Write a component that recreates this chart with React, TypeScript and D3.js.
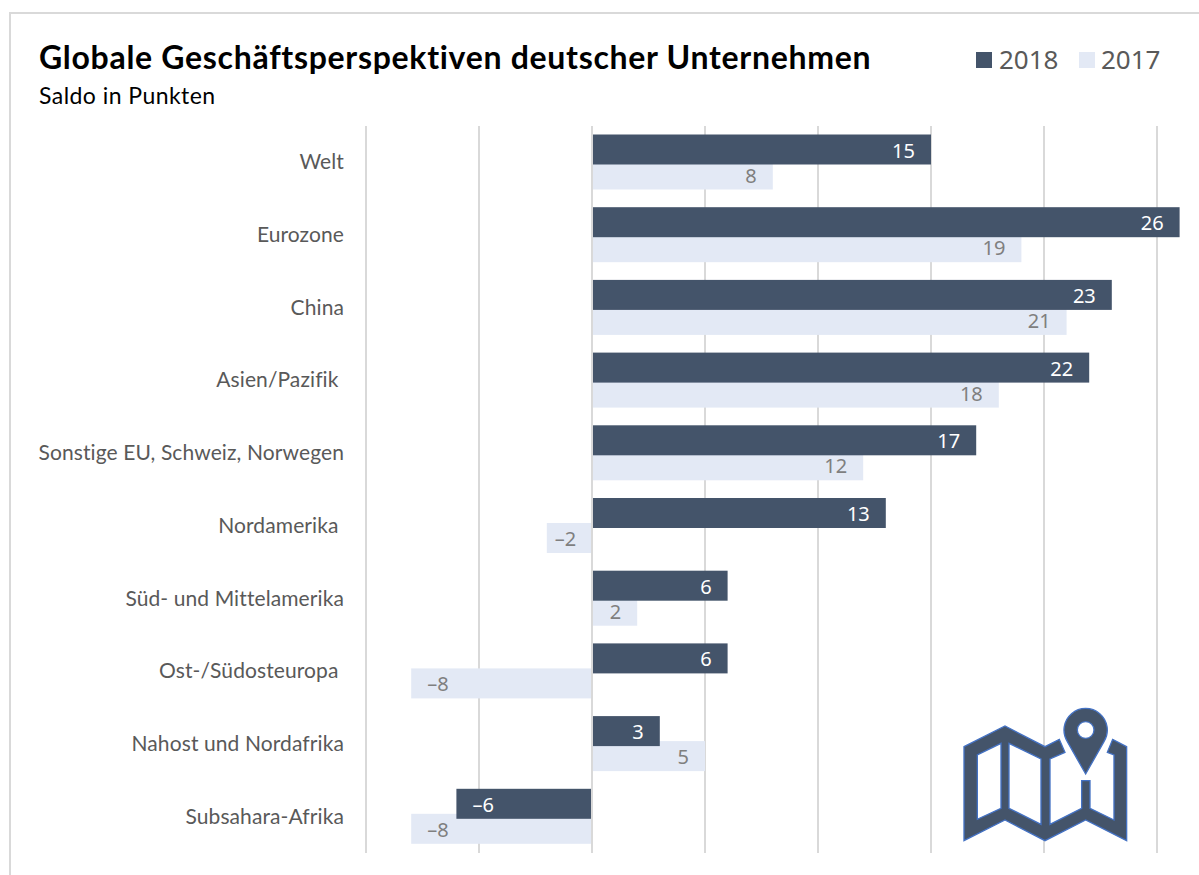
import React from 'react';
import * as d3 from 'd3';

const WIDTH = 1199;
const HEIGHT = 875;

const categories = [
  'Welt',
  'Eurozone',
  'China',
  'Asien/Pazifik ',
  'Sonstige EU, Schweiz, Norwegen',
  'Nordamerika ',
  'Süd- und Mittelamerika',
  'Ost-/Südosteuropa ',
  'Nahost und Nordafrika',
  'Subsahara-Afrika',
];
const values2018 = [15, 26, 23, 22, 17, 13, 6, 6, 3, -6];
const values2017 = [8, 19, 21, 18, 12, -2, 2, -8, 5, -8];
const gridTicks = [-10, -5, 0, 5, 10, 15, 20, 25];

const DARK = '#44546a';
const LIGHT = '#e3e9f5';
const GRID = '#d9d9d9';
const TEXT = '#595959';
const FONT = 'Lato, sans-serif';
const NUM_FONT = '"Noto Sans", sans-serif';

const BAR_H = 30;
const OFFSET_2018 = 8.5;
const OFFSET_2017 = 33.5;
const LABEL_PAD = 16;

const x = d3.scaleLinear().domain([-10, 25]).range([366, 1157]);
const y = d3.scaleBand<string>().domain(categories).range([126, 853]);

const fmt = (v: number) => (v < 0 ? '–' + Math.abs(v) : String(v));

const Bars = ({ values, offset, fill, labelFill }: { values: number[]; offset: number; fill: string; labelFill: string }) => (
  <g>
    {values.map((v, i) => {
      const x0 = x(Math.min(v, 0));
      const x1 = x(Math.max(v, 0));
      const top = (y(categories[i]) as number) + offset;
      // labels sit at the outer end of the bar, except short negative bars
      const short = v < 0 && x1 - x0 < 60;
      const lx = short ? (x0 + x1) / 2 - 4 : v < 0 ? x0 + LABEL_PAD : x1 - LABEL_PAD;
      const anchor = short ? 'middle' : v < 0 ? 'start' : 'end';
      return (
        <g key={i}>
          <rect x={x0} y={top} width={x1 - x0} height={BAR_H} fill={fill} />
          <text x={lx} y={top + BAR_H / 2 + 8} textAnchor={anchor} fontSize={20} fontFamily={NUM_FONT} fill={labelFill}>
            {fmt(v)}
          </text>
        </g>
      );
    })}
  </g>
);

const MapIcon = () => (
  <g transform="translate(940,690) scale(0.3333)" fill={DARK} stroke="#4472c4" strokeWidth={4} fillRule="evenodd">
    <path d="M72,170 L195,108 L315,170 L358,148 L375,187 L330,207 L330,403 L425,355 L425,272 L450,272 L450,355 L522,390 L522,195 L502,187 L518,148 L560,170 L560,452 L437,390 L315,452 L195,390 L72,452 Z M112,195 L112,388 L183,355 L183,160 Z M207,160 L207,355 L303,403 L303,207 Z" />
    <path d="M437,252 L382,155 A65,65 0 1 1 492,155 Z M437,95 A25,25 0 1 0 437,145 A25,25 0 1 0 437,95 Z" />
  </g>
);

export default function App() {
  return (
    <svg
      width={WIDTH}
      height={HEIGHT}
      style={{ position: 'absolute', left: 0, top: 0, display: 'block', background: '#fff' }}
      fontFamily={FONT}
    >
      <path d={`M10,${HEIGHT} V13 H${WIDTH}`} fill="none" stroke={GRID} strokeWidth={2} />

      <text x={39} y={69} fontSize={32} fontWeight={700} fill="#000" letterSpacing={0.7}>
        Globale Geschäftsperspektiven deutscher Unternehmen
      </text>
      <text x={39} y={104} fontSize={23} fill="#000" letterSpacing={0.45}>
        Saldo in Punkten
      </text>

      <rect x={976} y={52} width={16} height={16} fill={DARK} />
      <text x={999} y={69} fontSize={26} fontFamily={NUM_FONT} fill={TEXT}>2018</text>
      <rect x={1079} y={52} width={16} height={16} fill={LIGHT} />
      <text x={1101} y={69} fontSize={26} fontFamily={NUM_FONT} fill={TEXT}>2017</text>

      {gridTicks.map((t) => (
        <line key={t} x1={x(t)} x2={x(t)} y1={126} y2={853} stroke={GRID} strokeWidth={2} />
      ))}

      {categories.map((c) => (
        <text
          key={c}
          x={344}
          y={(y(c) as number) + y.bandwidth() / 2 + 7}
          textAnchor="end"
          fontSize={21}
          letterSpacing={0.1}
          fill={TEXT}
          style={{ whiteSpace: 'pre' }}
        >
          {c}
        </text>
      ))}

      <Bars values={values2017} offset={OFFSET_2017} fill={LIGHT} labelFill="#7f7f7f" />
      <Bars values={values2018} offset={OFFSET_2018} fill={DARK} labelFill="#fff" />

      <line x1={x(0)} x2={x(0)} y1={126} y2={853} stroke={GRID} strokeWidth={2} />

      <MapIcon />
    </svg>
  );
}
